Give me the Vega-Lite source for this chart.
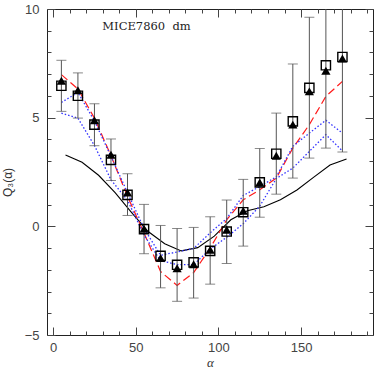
{
  "$schema": "https://vega.github.io/schema/vega-lite/v6.json",
  "width": 326,
  "height": 326,
  "autosize": "none",
  "padding": {"left": 47, "top": 9, "right": 9, "bottom": 47},
  "background": "white",
  "config": {
    "view": {"stroke": "#222", "strokeWidth": 1},
    "axis": {"grid": false, "domain": false, "labelFont": "Liberation Sans", "labelFontSize": 13, "labelColor": "#444", "tickColor": "#444", "titleFontWeight": "normal", "titleColor": "#333"}
  },
  "datasets": {
    "pts": [
      {"x": 5, "sq": 6.47, "tri": 6.70, "lo": 5.29, "hi": 7.64},
      {"x": 15, "sq": 6.01, "tri": 6.26, "lo": 4.98, "hi": 7.06},
      {"x": 25, "sq": 4.68, "tri": 4.88, "lo": 3.71, "hi": 5.64},
      {"x": 35, "sq": 3.06, "tri": 3.29, "lo": 2.11, "hi": 4.02},
      {"x": 45, "sq": 1.45, "tri": 1.56, "lo": 0.50, "hi": 2.42},
      {"x": 55, "sq": -0.13, "tri": -0.11, "lo": -1.26, "hi": 1.01},
      {"x": 65, "sq": -1.36, "tri": -1.46, "lo": -2.83, "hi": 0.04},
      {"x": 75, "sq": -1.77, "tri": -1.93, "lo": -3.45, "hi": -0.10},
      {"x": 85, "sq": -1.66, "tri": -1.74, "lo": -3.30, "hi": -0.05},
      {"x": 95, "sq": -1.13, "tri": -1.08, "lo": -2.66, "hi": 0.44},
      {"x": 105, "sq": -0.24, "tri": -0.16, "lo": -1.71, "hi": 1.21},
      {"x": 115, "sq": 0.65, "tri": 0.72, "lo": -0.91, "hi": 2.16},
      {"x": 125, "sq": 2.02, "tri": 2.02, "lo": 0.42, "hi": 3.58},
      {"x": 135, "sq": 3.34, "tri": 3.25, "lo": 1.48, "hi": 5.21},
      {"x": 145, "sq": 4.83, "tri": 4.68, "lo": 2.22, "hi": 7.47},
      {"x": 155, "sq": 6.37, "tri": 6.21, "lo": 3.14, "hi": 9.62},
      {"x": 165, "sq": 7.41, "tri": 7.16, "lo": 3.60, "hi": 11.22},
      {"x": 175, "sq": 7.79, "tri": 7.72, "lo": 3.42, "hi": 12.16}
    ],
    "black": [
      {"x": 7.5, "y": 3.28}, {"x": 17.5, "y": 2.95}, {"x": 27.5, "y": 2.35}, {"x": 37.5, "y": 1.55},
      {"x": 47.5, "y": 0.63}, {"x": 57.5, "y": -0.24}, {"x": 67.5, "y": -0.8}, {"x": 77.5, "y": -1.13},
      {"x": 87.5, "y": -0.98}, {"x": 97.5, "y": -0.45}, {"x": 107.5, "y": 0.3}, {"x": 117.5, "y": 0.72},
      {"x": 127.5, "y": 0.9}, {"x": 137.5, "y": 1.22}, {"x": 147.5, "y": 1.67}, {"x": 157.5, "y": 2.25},
      {"x": 167.5, "y": 2.82}, {"x": 177.5, "y": 3.1}
    ],
    "red": [
      {"x": 5, "y": 6.98}, {"x": 15, "y": 6.32}, {"x": 25, "y": 4.98}, {"x": 35, "y": 3.25},
      {"x": 45, "y": 1.38}, {"x": 55, "y": -0.31}, {"x": 65, "y": -2.08}, {"x": 75, "y": -2.72},
      {"x": 85, "y": -2.13}, {"x": 95, "y": -1.0}, {"x": 105, "y": 0.3}, {"x": 115, "y": 1.22},
      {"x": 125, "y": 1.68}, {"x": 135, "y": 2.22}, {"x": 145, "y": 3.6}, {"x": 155, "y": 4.68},
      {"x": 165, "y": 5.98}, {"x": 175, "y": 6.67}
    ],
    "blue": [
      {"s": "a", "x": 5, "y": 5.70}, {"s": "a", "x": 15, "y": 6.16}, {"s": "a", "x": 25, "y": 4.85}, {"s": "a", "x": 35, "y": 3.22},
      {"s": "a", "x": 45, "y": 1.55}, {"s": "a", "x": 55, "y": -0.1}, {"s": "a", "x": 65, "y": -1.33}, {"s": "a", "x": 75, "y": -1.18},
      {"s": "a", "x": 85, "y": -1.02}, {"s": "a", "x": 95, "y": -0.3}, {"s": "a", "x": 105, "y": 0.36}, {"s": "a", "x": 115, "y": 1.42},
      {"s": "a", "x": 125, "y": 1.83}, {"s": "a", "x": 135, "y": 2.28}, {"s": "a", "x": 145, "y": 3.68}, {"s": "a", "x": 155, "y": 4.29},
      {"s": "a", "x": 165, "y": 4.88}, {"s": "a", "x": 175, "y": 4.29},
      {"s": "b", "x": 5, "y": 5.21}, {"s": "b", "x": 15, "y": 4.98}, {"s": "b", "x": 25, "y": 3.72}, {"s": "b", "x": 35, "y": 2.14},
      {"s": "b", "x": 45, "y": 1.2}, {"s": "b", "x": 55, "y": -0.4}, {"s": "b", "x": 65, "y": -1.58}, {"s": "b", "x": 75, "y": -1.76},
      {"s": "b", "x": 85, "y": -1.76}, {"s": "b", "x": 95, "y": -1.05}, {"s": "b", "x": 105, "y": -0.5}, {"s": "b", "x": 115, "y": 0.12},
      {"s": "b", "x": 125, "y": 0.93}, {"s": "b", "x": 135, "y": 2.2}, {"s": "b", "x": 145, "y": 2.68}, {"s": "b", "x": 155, "y": 3.45},
      {"s": "b", "x": 165, "y": 4.22}, {"s": "b", "x": 175, "y": 3.47}
    ],
    "label": [{"t": "MICE7860\u00a0\u00a0dm"}]
  },
  "resolve": {"axis": {"x": "independent", "y": "independent"}},
  "layer": [
    {
      "data": {"name": "black"},
      "mark": {"type": "line", "color": "black", "strokeWidth": 1.1, "clip": true},
      "encoding": {
        "x": {"field": "x", "type": "quantitative",
          "scale": {"domain": [-3.7, 193.5], "nice": false, "zero": false},
          "axis": {"orient": "bottom", "values": [0,10,20,30,40,50,60,70,80,90,100,110,120,130,140,150,160,170,180,190],
            "labelExpr": "datum.value % 50 == 0 ? datum.label : ''",
            "tickSize": {"condition": {"test": "datum.value % 50 == 0", "value": -8}, "value": -4},
            "labelPadding": 14, "title": "α", "titleFont": "Liberation Serif", "titleFontStyle": "italic", "titleFontSize": 13, "titlePadding": 2}},
        "y": {"field": "y", "type": "quantitative",
          "scale": {"domain": [-5, 10], "nice": false, "zero": false},
          "axis": {"orient": "left", "values": [-5,-4,-3,-2,-1,0,1,2,3,4,5,6,7,8,9,10],
            "labelExpr": "datum.value % 5 == 0 ? datum.label : ''",
            "tickSize": {"condition": {"test": "datum.value % 5 == 0", "value": -8}, "value": -4},
            "labelPadding": 16, "title": "Q₃(α)", "titleFont": "Liberation Sans", "titleFontSize": 12,
            "titleX": -40, "titleY": 173, "titleAlign": "center", "titleBaseline": "middle", "titleAngle": -90}}
      }
    },
    {
      "data": {"name": "black"},
      "mark": {"type": "point", "opacity": 0},
      "encoding": {
        "x": {"field": "x", "type": "quantitative",
          "axis": {"orient": "top", "values": [0,10,20,30,40,50,60,70,80,90,100,110,120,130,140,150,160,170,180,190],
            "labels": false, "title": null,
            "tickSize": {"condition": {"test": "datum.value % 50 == 0", "value": -8}, "value": -4}}},
        "y": {"field": "y", "type": "quantitative",
          "axis": {"orient": "right", "values": [-5,-4,-3,-2,-1,0,1,2,3,4,5,6,7,8,9,10],
            "labels": false, "title": null,
            "tickSize": {"condition": {"test": "datum.value % 5 == 0", "value": -8}, "value": -4}}}
      }
    },
    {
      "data": {"name": "red"},
      "mark": {"type": "line", "color": "#ff1a1a", "strokeWidth": 1.2, "strokeDash": [8, 4], "clip": true},
      "encoding": {
        "x": {"field": "x", "type": "quantitative", "axis": null},
        "y": {"field": "y", "type": "quantitative", "axis": null}
      }
    },
    {
      "data": {"name": "blue"},
      "mark": {"type": "line", "color": "#3333ff", "strokeWidth": 1.3, "strokeDash": [1.5, 2], "clip": true},
      "encoding": {
        "x": {"field": "x", "type": "quantitative", "axis": null},
        "y": {"field": "y", "type": "quantitative", "axis": null},
        "detail": {"field": "s"}
      }
    },
    {
      "data": {"name": "pts"},
      "mark": {"type": "rule", "color": "#555", "strokeWidth": 1, "clip": true},
      "encoding": {
        "x": {"field": "x", "type": "quantitative", "axis": null},
        "y": {"field": "lo", "type": "quantitative", "axis": null},
        "y2": {"field": "hi"}
      }
    },
    {
      "data": {"name": "pts"},
      "mark": {"type": "tick", "color": "#555", "thickness": 1, "size": 10, "orient": "horizontal", "clip": true},
      "encoding": {
        "x": {"field": "x", "type": "quantitative", "axis": null},
        "y": {"field": "lo", "type": "quantitative", "axis": null}
      }
    },
    {
      "data": {"name": "pts"},
      "mark": {"type": "tick", "color": "#555", "thickness": 1, "size": 10, "orient": "horizontal", "clip": true},
      "encoding": {
        "x": {"field": "x", "type": "quantitative", "axis": null},
        "y": {"field": "hi", "type": "quantitative", "axis": null}
      }
    },
    {
      "data": {"name": "pts"},
      "mark": {"type": "point", "shape": "square", "filled": false, "color": "black", "strokeWidth": 1.4, "size": 85, "opacity": 1},
      "encoding": {
        "x": {"field": "x", "type": "quantitative", "axis": null},
        "y": {"field": "sq", "type": "quantitative", "axis": null}
      }
    },
    {
      "data": {"name": "pts"},
      "mark": {"type": "point", "shape": "triangle-up", "filled": true, "color": "black", "size": 85, "opacity": 1},
      "encoding": {
        "x": {"field": "x", "type": "quantitative", "axis": null},
        "y": {"field": "tri", "type": "quantitative", "axis": null}
      }
    },
    {
      "data": {"name": "label"},
      "mark": {"type": "text", "font": "DejaVu Serif", "fontSize": 11.5, "color": "#222", "align": "center", "baseline": "middle"},
      "encoding": {
        "x": {"datum": 56.5, "type": "quantitative", "axis": null},
        "y": {"datum": 9.17, "type": "quantitative", "axis": null},
        "text": {"field": "t"}
      }
    }
  ]
}
